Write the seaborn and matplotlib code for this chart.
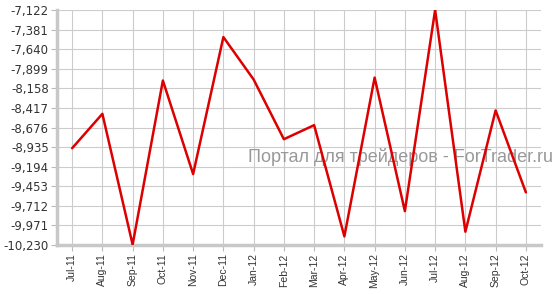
import matplotlib
matplotlib.use("Agg")
import matplotlib.pyplot as plt
import seaborn as sns
import pandas as pd
from matplotlib.ticker import FuncFormatter

months = ["Jul-11", "Aug-11", "Sep-11", "Oct-11", "Nov-11", "Dec-11", "Jan-12", "Feb-12",
          "Mar-12", "Apr-12", "May-12", "Jun-12", "Jul-12", "Aug-12", "Sep-12", "Oct-12"]
values = [-8950, -8495, -10225, -8055, -9292, -7480, -8041, -8831,
          -8645, -10116, -8016, -9782, -7122, -10054, -8450, -9534]
y_ticks = [-7122, -7381, -7640, -7899, -8158, -8417, -8676, -8935,
           -9194, -9453, -9712, -9971, -10230]
watermark = "Портал для трейдеров - ForTrader.ru"

df = pd.DataFrame({"idx": range(len(months)), "month": months, "value": values})

sns.set_theme(style="white")
plt.rcParams['font.family'] = ['DejaVu Sans']

fig = plt.figure(figsize=(5.6, 2.94), dpi=100)
ax = fig.add_axes([57/560, 1 - 245/294, (541-57)/560, (245-10)/294])

sns.lineplot(data=df, x="idx", y="value", ax=ax, color="#dd0000", linewidth=1.8, zorder=3)

ax.set_xlim(-0.5, len(months) - 0.5)
ax.set_ylim(min(y_ticks), max(y_ticks))
ax.set_xticks(df["idx"])
ax.set_xticklabels(months, rotation=90, fontsize=7.5, family=["Liberation Sans"], color="#333333")
ax.set_yticks(y_ticks)
ax.yaxis.set_major_formatter(FuncFormatter(lambda v, p: f"{int(round(v)):,}"))
for lbl in ax.get_yticklabels():
    lbl.set_fontsize(8.5)
    lbl.set_color("#333333")
ax.set_xlabel("")
ax.set_ylabel("")

ax.grid(True, color="#cccccc", linewidth=0.8)
ax.set_axisbelow(True)
for s in ["top", "right"]:
    ax.spines[s].set_visible(False)
for s in ["left", "bottom"]:
    ax.spines[s].set_color("#c8c8c8")
    ax.spines[s].set_linewidth(2.5)
ax.tick_params(axis="both", which="both", length=4, width=0.8, color="#bbbbbb",
               direction="out", bottom=True, left=True, pad=2)

ax.text(0.988, 1 - 157/294, watermark, transform=fig.transFigure, ha="right", va="center",
        fontsize=13, color="#999999", family=["Liberation Sans"], zorder=2, clip_on=False)

fig.savefig("out.png", dpi=100, facecolor="white")
